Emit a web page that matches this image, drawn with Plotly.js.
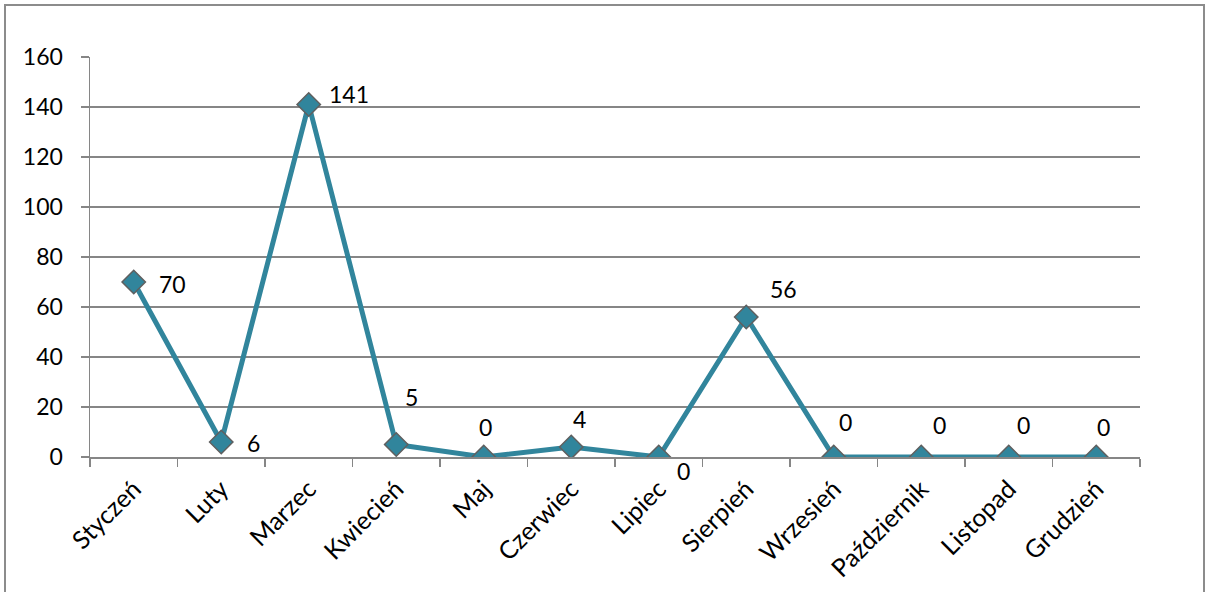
<!DOCTYPE html>
<html>
<head>
<meta charset="utf-8">
<script src="https://cdn.plot.ly/plotly-3.0.1.min.js"></script>
<style>
html,body{margin:0;padding:0;background:#fff;}
#chart{width:1205px;height:592px;}
</style>
</head>
<body>
<div id="chart"></div>
<script>
const months = ["Styczeń","Luty","Marzec","Kwiecień","Maj","Czerwiec","Lipiec","Sierpień","Wrzesień","Październik","Listopad","Grudzień"];
const values = [70, 6, 141, 5, 0, 4, 0, 56, 0, 0, 0, 0];
const yTicks = [0, 20, 40, 60, 80, 100, 120, 140, 160];
// label offsets in pixels (dx, dy)
const labelDx = [39, 32, 40, 15, 2, 8, 25, 37, 12, 18, 15, 7];
const labelDy = [-2, -1, 11, 48, 30, 28, -14, 28, 35, 32, 32, 30];

const FONT = "Lato, 'Open Sans', sans-serif";
const teal = "#31859C";
const grid = "#868686";

const trace = {
  x: months, y: values, type: "scatter", mode: "lines+markers",
  line: {color: teal, width: 5},
  marker: {symbol: "diamond", size: 18, color: teal, line: {color: "#5f5f5f", width: 1.5}},
  hoverinfo: "none"
};

const annotations = months.map((m, i) => ({
  x: m, y: values[i], xref: "x", yref: "y", text: String(values[i]),
  showarrow: false, xshift: labelDx[i], yshift: labelDy[i],
  font: {family: FONT, size: 23, color: "#000"}
}));

const layout = {
  width: 1205, height: 592,
  margin: {l: 90, r: 65, t: 57, b: 135},
  paper_bgcolor: "#fff", plot_bgcolor: "#fff",
  showlegend: false,
  xaxis: {
    type: "category", categoryorder: "array", categoryarray: months,
    range: [-0.5, 11.5],
    tickson: "boundaries", ticks: "outside", ticklen: 8, tickwidth: 1.5, tickcolor: grid,
    showline: true, linecolor: grid, linewidth: 1.5,
    showgrid: false, zeroline: false,
    tickangle: -45, ticklabelstandoff: 6,
    tickfont: {family: FONT, size: 25, color: "#000"}
  },
  yaxis: {
    range: [0, 160], tickvals: yTicks, ticktext: yTicks.map(String),
    ticks: "outside", ticklen: 8, tickwidth: 1.5, tickcolor: grid,
    showline: true, linecolor: grid, linewidth: 1.5,
    showgrid: true, gridcolor: grid, gridwidth: 1.5,
    zeroline: false, ticklabelstandoff: 13,
    tickfont: {family: FONT, size: 23, color: "#000"}
  },
  annotations: annotations,
  shapes: [{
    type: "rect", xref: "paper", yref: "paper",
    x0: (5 - 90) / 1050, x1: (1204 - 90) / 1050,
    y0: -0.5, y1: (457 - 5) / 400,
    line: {color: "#8c8c8c", width: 2}, fillcolor: "rgba(0,0,0,0)", layer: "below"
  }]
};

Plotly.newPlot("chart", [trace], layout, {staticPlot: true, displayModeBar: false});
</script>
</body>
</html>
